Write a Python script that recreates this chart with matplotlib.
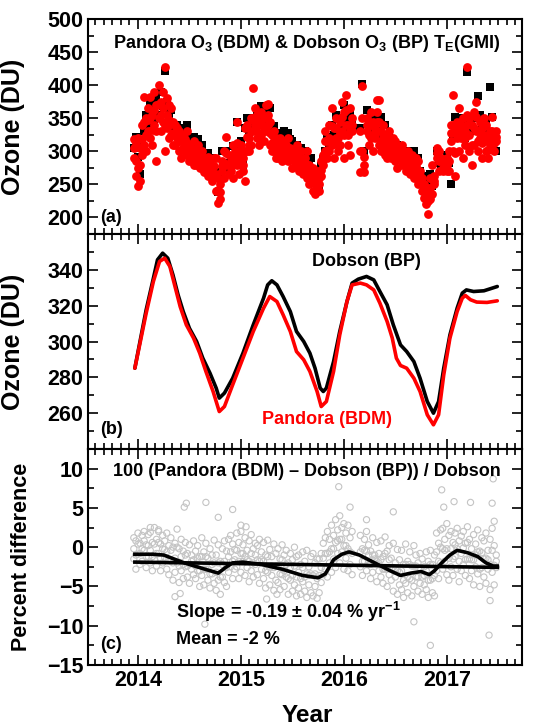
import numpy as np
import matplotlib
matplotlib.use('Agg')
import matplotlib.pyplot as plt
from matplotlib.ticker import MultipleLocator

plt.rcParams['font.family'] = 'Liberation Sans'
plt.rcParams['font.weight'] = 'bold'
plt.rcParams['mathtext.fontset'] = 'custom'
plt.rcParams['mathtext.rm'] = 'Liberation Sans:bold'
plt.rcParams['mathtext.bf'] = 'Liberation Sans:bold'
plt.rcParams['mathtext.default'] = 'rm'

# observation dates (decimal year), gap in early 2016
obs_year = [
    2013.96, 2013.98, 2014.00, 2014.02, 2014.04, 2014.06, 2014.08, 2014.10, 2014.12, 2014.14,
    2014.16, 2014.18, 2014.20, 2014.22, 2014.24, 2014.26, 2014.28, 2014.30, 2014.32, 2014.34,
    2014.36, 2014.38, 2014.40, 2014.42, 2014.44, 2014.46, 2014.48, 2014.50, 2014.52, 2014.54,
    2014.56, 2014.58, 2014.60, 2014.62, 2014.64, 2014.66, 2014.68, 2014.70, 2014.72, 2014.74,
    2014.76, 2014.78, 2014.80, 2014.82, 2014.84, 2014.86, 2014.88, 2014.90, 2014.92, 2014.94,
    2014.96, 2014.98, 2015.00, 2015.02, 2015.04, 2015.06, 2015.08, 2015.10, 2015.12, 2015.14,
    2015.16, 2015.18, 2015.20, 2015.22, 2015.24, 2015.26, 2015.28, 2015.30, 2015.32, 2015.34,
    2015.36, 2015.38, 2015.40, 2015.42, 2015.44, 2015.46, 2015.48, 2015.50, 2015.52, 2015.54,
    2015.56, 2015.58, 2015.60, 2015.62, 2015.64, 2015.66, 2015.68, 2015.70, 2015.72, 2015.74,
    2015.76, 2015.78, 2015.80, 2015.82, 2015.84, 2015.86, 2015.88, 2015.90, 2015.92, 2015.94,
    2015.96, 2015.98, 2016.00, 2016.02, 2016.04, 2016.06, 2016.08,
    2016.16, 2016.18, 2016.20, 2016.22, 2016.24, 2016.26, 2016.28, 2016.30, 2016.32, 2016.34,
    2016.36, 2016.38, 2016.40, 2016.42, 2016.44, 2016.46, 2016.48, 2016.50, 2016.52, 2016.54,
    2016.56, 2016.58, 2016.60, 2016.62, 2016.64, 2016.66, 2016.68, 2016.70, 2016.72, 2016.74,
    2016.76, 2016.78, 2016.80, 2016.82, 2016.84, 2016.86, 2016.88, 2016.90, 2016.92, 2016.94,
    2016.96, 2016.98, 2017.00, 2017.02, 2017.04, 2017.06, 2017.08, 2017.10, 2017.12, 2017.14,
    2017.16, 2017.18, 2017.20, 2017.22, 2017.24, 2017.26, 2017.28, 2017.30, 2017.32, 2017.34,
    2017.36, 2017.38, 2017.40, 2017.42, 2017.44, 2017.46, 2017.48]

# Pandora O3 (three retrievals per date), DU
pandora_hi = [
    318, 312, 320, 305, 340, 382, 350, 365, 382, 355,
    390, 370, 400, 375, 390, 427, 380, 370, 365, 345,
    340, 335, 330, 315, 325, 318, 330, 310, 305, 315,
    300, 310, 295, 300, 290, 280, 292, 288, 275, 290,
    290, 260, 250, 285, 300, 322, 295, 285, 310, 290,
    345, 300, 310, 290, 335, 340, 320, 350, 395, 365,
    355, 345, 360, 350, 370, 372, 345, 325, 330, 320,
    310, 320, 305, 315, 310, 320, 305, 300, 285, 310,
    290, 300, 285, 290, 300, 280, 270, 275, 265, 270,
    260, 285, 295, 330, 315, 340, 365, 335, 350, 320,
    345, 375, 360, 385, 340, 365, 350,
    330, 398, 292, 350, 340, 360, 345, 335, 378, 378,
    330, 340, 315, 325, 330, 310, 320, 315, 310, 305,
    310, 300, 295, 300, 285, 295, 280, 290, 285, 270,
    260, 250, 240, 245, 260, 280, 255, 305, 300, 290,
    275, 280, 290, 300, 340, 385, 330, 345, 365, 340,
    350, 330, 428, 350, 340, 360, 375, 330, 345, 335,
    350, 340, 315, 330, 352, 325, 330]
pandora_mid = [
    305, 285, 275, 280, 318, 345, 325, 348, 350, 332,
    362, 330, 372, 355, 365, 340, 355, 348, 342, 328,
    325, 328, 315, 302, 315, 308, 312, 298, 298, 296,
    290, 298, 285, 292, 280, 276, 278, 279, 266, 278,
    265, 242, 238, 278, 282, 298, 280, 278, 285, 282,
    312, 282, 295, 280, 300, 322, 310, 330, 348, 352,
    338, 328, 342, 332, 350, 355, 328, 312, 315, 305,
    300, 310, 295, 308, 302, 302, 298, 288, 292, 295,
    280, 288, 275, 282, 280, 265, 265, 258, 250, 258,
    250, 272, 288, 315, 302, 320, 338, 312, 335, 310,
    328, 352, 325, 362, 325, 330, 340,
    300, 350, 280, 340, 325, 340, 322, 328, 360, 345,
    315, 325, 305, 308, 320, 300, 312, 300, 292, 298,
    295, 292, 282, 290, 275, 285, 270, 278, 268, 262,
    250, 240, 230, 225, 244, 258, 262, 298, 285, 288,
    272, 278, 280, 285, 328, 340, 298, 332, 332, 330,
    320, 320, 355, 325, 310, 335, 352, 315, 332, 312,
    338, 320, 302, 320, 330, 312, 322]
pandora_lo = [
    290, 262, 248, 255, 295, 310, 300, 330, 320, 310,
    340, 285, 350, 330, 345, 300, 335, 320, 325, 310,
    310, 320, 300, 290, 305, 300, 295, 285, 290, 280,
    280, 290, 275, 285, 268, 270, 262, 270, 255, 265,
    240, 222, 228, 270, 260, 280, 265, 270, 260, 300,
    280, 265, 280, 270, 255, 300, 300, 310, 330, 340,
    320, 310, 325, 315, 330, 340, 310, 300, 300, 290,
    290, 300, 285, 300, 295, 285, 290, 275, 300, 280,
    270, 275, 265, 275, 260, 250, 260, 240, 235, 245,
    240, 262, 280, 300, 290, 300, 310, 290, 320, 300,
    310, 330, 290, 340, 310, 295, 330,
    268, 300, 268, 330, 310, 320, 300, 320, 345, 310,
    300, 310, 295, 290, 310, 290, 305, 285, 275, 290,
    280, 285, 270, 280, 265, 275, 260, 265, 250, 255,
    240, 230, 220, 205, 228, 235, 250, 290, 270, 285,
    270, 275, 270, 270, 315, 300, 262, 320, 300, 320,
    290, 310, 340, 300, 280, 310, 330, 300, 320, 290,
    325, 300, 290, 310, 310, 300, 315]

# Dobson O3, DU
dobson_o3 = [
    305, 322, 292, 265, 312, 330, 355, 340, 372, 360,
    345, 380, 355, 390, 368, 422, 375, 355, 362, 338,
    332, 340, 322, 335, 315, 328, 340, 318, 312, 322,
    305, 318, 302, 310, 295, 285, 298, 280, 290, 275,
    262, 238, 268, 300, 282, 300, 275, 292, 308, 290,
    345, 305, 315, 280, 335, 350, 325, 340, 350, 345,
    362, 340, 368, 345, 358, 352, 365, 330, 338, 325,
    320, 328, 322, 330, 312, 328, 318, 315, 300, 310,
    295, 305, 290, 300, 285, 280, 290, 272, 265, 252,
    245, 278, 288, 300, 322, 310, 340, 325, 355, 330,
    350, 340, 370, 345, 330, 355, 340,
    335, 402, 300, 362, 340, 350, 355, 335, 348, 330,
    352, 325, 340, 315, 322, 300, 312, 305, 310, 300,
    305, 290, 300, 295, 285, 292, 300, 282, 290, 270,
    262, 255, 245, 258, 265, 248, 260, 300, 282, 275,
    282, 272, 295, 282, 250, 325, 352, 338, 350, 330,
    340, 320, 420, 345, 335, 350, 330, 383, 355, 340,
    328, 345, 315, 397, 352, 320, 300]

# percent difference 100 (Pandora - Dobson) / Dobson
pct_hi = [
    1.2, 0.8, 1.8, 0.5, 1.5, 2.0, 0.3, 1.6, 1.9, 0.6,
    2.5, 1.0, 2.2, 0.4, 1.5, 0.8, 1.8, 0.2, 1.2, 0.0,
    0.5, 2.3, -0.2, 1.0, -0.5, 0.6, -0.8, 0.3, -1.0, 0.8,
    -0.5, 0.2, -1.2, 1.2, -0.6, 0.5, -1.4, -0.2, -1.0, 0.9,
    -1.0, 0.3, -1.8, -0.2, 0.8, -0.5, 1.0, 1.5, 0.4, -0.3,
    1.8, 0.6, 2.0, 0.3, 1.2, -0.4, 0.8, 1.6, -0.2, 0.5,
    0.2, 1.0, -0.6, 0.6, -1.0, 0.9, -0.3, -1.2, 0.4, -0.8,
    -0.2, -1.5, 0.3, -1.0, -0.4, -2.0, -0.8, -1.6, 0.0, -1.2,
    -1.0, -2.2, -0.6, -1.8, -0.4, -2.5, -1.2, -0.8, -2.0, -1.5,
    -1.5, -0.8, 0.5, 1.2, 2.0, 1.0, 2.8, 1.5, 3.5, 2.2,
    4.0, 2.5, 3.0, 1.8, 2.8, 1.2, 2.0,
    1.5, -0.2, 1.0, 2.0, 0.3, -0.5, 1.2, -1.0, 0.6, -0.8,
    0.8, -1.2, 1.3, -0.5, 0.2, -1.4, 0.5, -2.0, -0.3, -1.6,
    -0.4, -2.2, 0.4, -1.8, -0.6, -2.4, 0.2, -1.0, -2.0, -0.8,
    -1.5, -2.5, -0.6, -1.8, -0.4, -2.2, -1.0, 1.8, 0.5, 2.2,
    2.4, 1.0, 3.0, 1.5, 2.0, 0.6, 1.8, 2.4, 0.8, 1.4,
    2.0, 0.5, 2.6, 1.0, -0.2, 1.6, 0.4, 2.2, -0.5, 1.2,
    0.8, 1.8, -0.4, 1.0, 2.4, 0.2, -1.0]
pct_mid = [
    -0.2, -1.0, 0.4, -0.8, -0.2, 0.8, -1.2, 0.2, -0.4, -1.2,
    0.4, -0.8, 0.6, -1.4, -0.2, -0.3, -0.6, -1.6, -0.4, -2.0,
    -1.4, 0.0, -2.4, -1.2, -2.2, -1.0, -2.4, -2.2, -1.8, -1.6,
    -2.4, -1.4, -3.0, -1.2, -2.8, -1.2, -2.8, -3.4, -2.2, -2.0,
    -3.2, -2.0, -3.8, -2.2, -1.8, -2.6, -1.2, -0.6, -1.8, -1.6,
    -0.4, -1.8, -0.8, -0.8, -1.2, -1.6, -1.8, -0.8, -2.0, -1.0,
    -1.6, -1.8, -1.6, -1.8, -3.0, -1.2, -2.6, -2.4, -2.6, -2.4,
    -2.4, -3.4, -1.6, -3.0, -2.2, -4.0, -2.6, -3.6, -2.4, -3.8,
    -3.2, -4.0, -2.6, -3.8, -3.4, -3.6, -3.4, -3.6, -3.4, -4.0,
    -3.6, -2.6, -1.4, -0.8, -0.8, -0.6, -0.2, -0.2, 0.6, 0.8,
    1.0, 1.0, 0.2, 0.2, -0.2, -0.6, -0.8,
    -0.6, -1.8, -0.4, -0.5, -1.0, -2.2, -1.0, -1.5, -1.8, -2.0,
    -1.6, -2.8, -0.8, -2.8, -1.6, -2.8, -2.6, -2.8, -3.0, -3.2,
    -3.0, -4.2, -2.2, -3.8, -2.2, -4.2, -2.4, -2.4, -3.8, -2.6,
    -3.8, -3.6, -3.0, -4.2, -2.2, -4.0, -3.6, -0.6, -1.8, 0.0,
    -0.2, -0.4, -0.2, -1.4, -0.2, -1.5, 0.3, -0.2, -1.8, -0.8,
    -0.1, -1.6, 0.6, -1.5, -1.6, -1.6, -1.0, -0.6, -2.8, -0.7,
    -1.5, -1.4, -1.6, -2.2, -0.4, -2.3, -1.8]
pct_lo = [
    -1.5, -2.8, -0.9, -2.2, -1.8, -0.4, -2.6, -1.2, -2.0, -3.0,
    -1.6, -2.4, -0.8, -3.0, -2.0, -1.3, -2.8, -3.5, -1.8, -4.2,
    -3.2, -2.0, -4.5, -3.0, -4.0, -2.5, -3.8, -4.6, -2.8, -3.5,
    -4.0, -3.0, -5.0, -3.6, -4.8, -2.8, -4.2, -5.2, -3.4, -4.6,
    -5.5, -4.2, -6.0, -3.8, -4.5, -5.0, -3.2, -2.5, -4.0, -2.8,
    -2.5, -4.0, -3.2, -1.8, -3.6, -2.6, -4.4, -3.0, -3.8, -2.2,
    -3.5, -4.6, -2.8, -4.0, -5.2, -3.2, -4.8, -3.6, -5.5, -4.2,
    -4.5, -5.4, -3.5, -5.0, -3.8, -6.0, -4.2, -5.6, -4.8, -6.2,
    -5.2, -6.0, -4.4, -5.6, -6.4, -4.8, -5.8, -6.2, -5.0, -6.5,
    -5.8, -4.5, -3.5, -2.8, -3.8, -2.0, -3.2, -1.5, -2.6, -0.8,
    -2.0, -0.6, -2.8, -1.4, -3.0, -2.2, -3.5,
    -2.5, -3.6, -1.8, -3.0, -2.2, -4.0, -3.2, -2.0, -4.4, -3.0,
    -3.8, -4.6, -2.8, -5.0, -3.5, -4.2, -5.6, -3.8, -6.0, -4.8,
    -5.4, -6.4, -4.6, -5.8, -4.0, -6.2, -5.0, -3.8, -5.6, -4.6,
    -6.0, -4.8, -5.4, -6.4, -4.2, -5.8, -6.2, -3.0, -4.0, -2.0,
    -2.8, -1.8, -3.5, -4.2, -2.5, -3.6, -1.2, -2.8, -4.4, -3.0,
    -2.2, -3.6, -1.5, -4.0, -3.0, -4.8, -2.5, -3.4, -5.0, -2.6,
    -3.8, -4.6, -2.8, -5.4, -3.2, -4.8, -2.6]

# isolated outliers in percent difference
pct_out_year = [2014.12, 2014.20, 2014.45, 2014.47, 2014.66, 2014.78, 2014.92, 2015.00, 2015.05,
                2015.95, 2016.06, 2016.22, 2016.48, 2016.95, 2016.97, 2017.07, 2017.23, 2017.44,
                2017.45, 2017.46, 2014.36, 2014.41, 2014.65, 2015.25, 2015.35, 2016.68, 2016.84,
                2017.41, 2017.42]
pct_out_val = [2.5, 2.0, 5.1, 5.6, 5.7, 3.8, 4.8, 2.8, 2.6,
               7.7, 5.1, 3.5, 4.5, 7.3, 5.1, 5.8, 5.7, 5.6,
               8.7, 3.3, -6.3, -5.9, -9.8, -6.6, -6.0, -9.5, -12.5,
               -11.2, -6.8]

# smoothed ozone (panel b)
smooth_dob_year = [
    2013.97, 2014.02, 2014.08, 2014.15, 2014.19, 2014.24, 2014.29, 2014.34, 2014.39, 2014.44,
    2014.50, 2014.57, 2014.63, 2014.70, 2014.76, 2014.79, 2014.84, 2014.92, 2015.02, 2015.12,
    2015.22, 2015.26, 2015.30, 2015.35, 2015.41, 2015.48, 2015.54, 2015.61, 2015.67, 2015.72,
    2015.77, 2015.80, 2015.83, 2015.90, 2015.96, 2016.03, 2016.08, 2016.14, 2016.22, 2016.29,
    2016.35, 2016.42, 2016.48, 2016.55, 2016.61, 2016.68, 2016.74, 2016.81, 2016.87, 2016.92,
    2016.97, 2017.03, 2017.10, 2017.15, 2017.19, 2017.26, 2017.36, 2017.42, 2017.49]
smooth_dob = [
    285.1, 300.0, 317.7, 335.3, 345.6, 349.3, 346.5, 337.2, 326.0, 316.7,
    307.4, 300.0, 290.7, 282.3, 274.0, 268.4, 271.2, 279.5, 293.5, 309.3,
    324.2, 331.6, 333.9, 331.6, 325.1, 316.7, 305.6, 300.0, 293.5, 285.1,
    274.0, 272.1, 274.0, 288.8, 305.6, 322.3, 332.6, 334.8, 336.3, 334.4,
    327.9, 320.5, 309.3, 298.1, 294.4, 288.8, 279.5, 266.5, 260.0, 266.5,
    285.1, 303.7, 318.6, 327.0, 328.8, 327.9, 328.3, 329.4, 330.7]
smooth_pan_year = [
    2013.97, 2014.02, 2014.08, 2014.15, 2014.21, 2014.26, 2014.31, 2014.36, 2014.41, 2014.47,
    2014.54, 2014.60, 2014.66, 2014.73, 2014.79, 2014.84, 2014.92, 2015.02, 2015.12, 2015.22,
    2015.28, 2015.35, 2015.41, 2015.48, 2015.54, 2015.61, 2015.67, 2015.74, 2015.78, 2015.83,
    2015.90, 2015.96, 2016.03, 2016.08, 2016.16, 2016.22, 2016.29, 2016.35, 2016.42, 2016.47,
    2016.51, 2016.55, 2016.61, 2016.68, 2016.74, 2016.81, 2016.87, 2016.92, 2016.97, 2017.03,
    2017.10, 2017.15, 2017.18, 2017.23, 2017.29, 2017.39, 2017.49]
smooth_pan = [
    285.1, 299.0, 315.8, 333.5, 344.7, 346.5, 341.9, 330.7, 319.5, 309.3,
    301.9, 293.5, 283.3, 272.1, 260.9, 263.7, 275.8, 290.7, 305.6, 318.6,
    325.1, 322.3, 314.9, 305.6, 294.4, 289.8, 283.3, 272.1, 263.7, 266.5,
    283.3, 303.7, 322.3, 331.6, 332.6, 331.6, 328.8, 321.4, 311.2, 301.9,
    290.7, 286.6, 285.1, 279.5, 272.1, 259.1, 253.5, 259.1, 281.4, 301.9,
    316.7, 324.2, 325.7, 323.3, 322.0, 321.8, 322.7]

# smoothed percent difference and linear fit (panel c)
smooth_pct_year = [2013.97, 2014.15, 2014.25, 2014.45, 2014.65, 2014.78, 2014.85, 2014.92, 2015.02,
                   2015.20, 2015.40, 2015.60, 2015.75, 2015.82, 2015.90, 2015.98, 2016.05, 2016.15,
                   2016.30, 2016.45, 2016.55, 2016.65, 2016.75, 2016.83, 2016.88, 2016.95, 2017.03,
                   2017.10, 2017.20, 2017.30, 2017.38, 2017.45, 2017.49]
smooth_pct = [-0.9, -0.9, -1.0, -2.0, -2.8, -3.3, -2.6, -2.0, -1.9,
              -2.2, -2.8, -3.6, -3.9, -3.4, -1.6, -0.9, -0.6, -1.0,
              -2.0, -3.0, -3.6, -3.3, -3.1, -3.5, -3.0, -2.0, -1.0,
              -0.4, -0.7, -1.2, -2.0, -2.4, -2.4]
fit_year = [2013.97, 2017.49]
fit_pct = [-1.9, -2.57]

W, H = 540, 727
fig = plt.figure(figsize=(W / 100, H / 100), dpi=100)
left, width = 88 / W, (522 - 88) / W
ax_a = fig.add_axes([left, 1 - 234 / H, width, 215 / H])
ax_b = fig.add_axes([left, 1 - 449 / H, width, 215 / H])
ax_c = fig.add_axes([left, 1 - 665 / H, width, 216 / H])

years = np.array(obs_year)

# panel (a)
ax_a.scatter(years, dobson_o3, marker='s', s=30, color='black', linewidths=0, zorder=2)
for vals in (pandora_hi, pandora_mid, pandora_lo):
    ax_a.scatter(years, vals, marker='o', s=40, color='#ff0000', linewidths=0, zorder=3)
ax_a.set_ylim(175, 500)
ax_a.set_yticks([200, 250, 300, 350, 400, 450, 500])
ax_a.yaxis.set_minor_locator(MultipleLocator(25))
ax_a.text(0.505, 0.885, 'Pandora O$_3$ (BDM) & Dobson O$_3$ (BP) T$_E$(GMI)',
          transform=ax_a.transAxes, ha='center', va='center', fontsize=13, fontweight='bold')
ax_a.text(0.028, 0.079, '(a)', transform=ax_a.transAxes, ha='left', va='center',
          fontsize=13, fontweight='bold')
ax_a.set_ylabel('Ozone (DU)', fontsize=18, fontweight='bold')

# panel (b)
ax_b.plot(smooth_dob_year, smooth_dob, color='black', lw=2.6, zorder=2,
          solid_joinstyle='round', solid_capstyle='round')
ax_b.plot(smooth_pan_year, smooth_pan, color='#ff0000', lw=2.6, zorder=3,
          solid_joinstyle='round', solid_capstyle='round')
ax_b.set_ylim(240, 360)
ax_b.set_yticks([260, 280, 300, 320, 340])
ax_b.yaxis.set_minor_locator(MultipleLocator(10))
ax_b.text(0.642, 0.87, 'Dobson (BP)', transform=ax_b.transAxes, ha='center', va='center',
          fontsize=13, fontweight='bold', color='black')
ax_b.text(0.551, 0.135, 'Pandora (BDM)', transform=ax_b.transAxes, ha='center', va='center',
          fontsize=13, fontweight='bold', color='#ff0000')
ax_b.text(0.028, 0.093, '(b)', transform=ax_b.transAxes, ha='left', va='center',
          fontsize=13, fontweight='bold')
ax_b.set_ylabel('Ozone (DU)', fontsize=18, fontweight='bold')

# panel (c)
gray = '#c4c4c4'
for vals in (pct_hi, pct_mid, pct_lo):
    ax_c.scatter(years, vals, s=20, facecolors='none', edgecolors=gray, linewidths=0.8, zorder=1)
ax_c.scatter(pct_out_year, pct_out_val, s=20, facecolors='none', edgecolors=gray,
             linewidths=0.8, zorder=1)
ax_c.plot(fit_year, fit_pct, color='black', lw=2.6, zorder=3)
ax_c.plot(smooth_pct_year, smooth_pct, color='black', lw=2.6, zorder=3,
          solid_joinstyle='round')
ax_c.set_ylim(-15, 12.5)
ax_c.set_yticks([-15, -10, -5, 0, 5, 10])
ax_c.yaxis.set_minor_locator(MultipleLocator(2.5))
ax_c.text(0.505, 0.898, '100 (Pandora (BDM) \u2013 Dobson (BP)) / Dobson',
          transform=ax_c.transAxes, ha='center', va='center', fontsize=13, fontweight='bold')
ax_c.text(0.203, 0.245, 'Slope = -0.19 \u00b1 0.04 % yr$^{-1}$', transform=ax_c.transAxes,
          ha='left', va='center', fontsize=13, fontweight='bold')
ax_c.text(0.203, 0.116, 'Mean = -2 %', transform=ax_c.transAxes, ha='left', va='center',
          fontsize=13, fontweight='bold')
ax_c.text(0.028, 0.097, '(c)', transform=ax_c.transAxes, ha='left', va='center',
          fontsize=13, fontweight='bold')
ax_c.set_ylabel('Percent difference', fontsize=15.5, fontweight='bold')
ax_c.set_xlabel('Year', fontsize=17.5, fontweight='bold')

for ax in (ax_a, ax_b, ax_c):
    ax.set_xlim(2013.515, 2017.73)
    ax.set_xticks([2014, 2015, 2016, 2017])
    ax.xaxis.set_minor_locator(MultipleLocator(1 / 12))
    ax.tick_params(which='both', direction='in', top=True, right=True, width=1.2)
    ax.tick_params(which='major', length=7, labelsize=15.5)
    ax.tick_params(which='minor', length=4)
    for sp in ax.spines.values():
        sp.set_linewidth(1.5)
    for lab in ax.get_xticklabels() + ax.get_yticklabels():
        lab.set_fontweight('bold')

ax_a.tick_params(labelbottom=False)
ax_b.tick_params(labelbottom=False)
ax_a.yaxis.set_label_coords(-0.145, 0.5)
ax_b.yaxis.set_label_coords(-0.145, 0.5)
ax_c.yaxis.set_label_coords(-0.129, 0.5)
ax_c.xaxis.set_label_coords(0.505, -0.18)

fig.savefig('out.png', dpi=100)
